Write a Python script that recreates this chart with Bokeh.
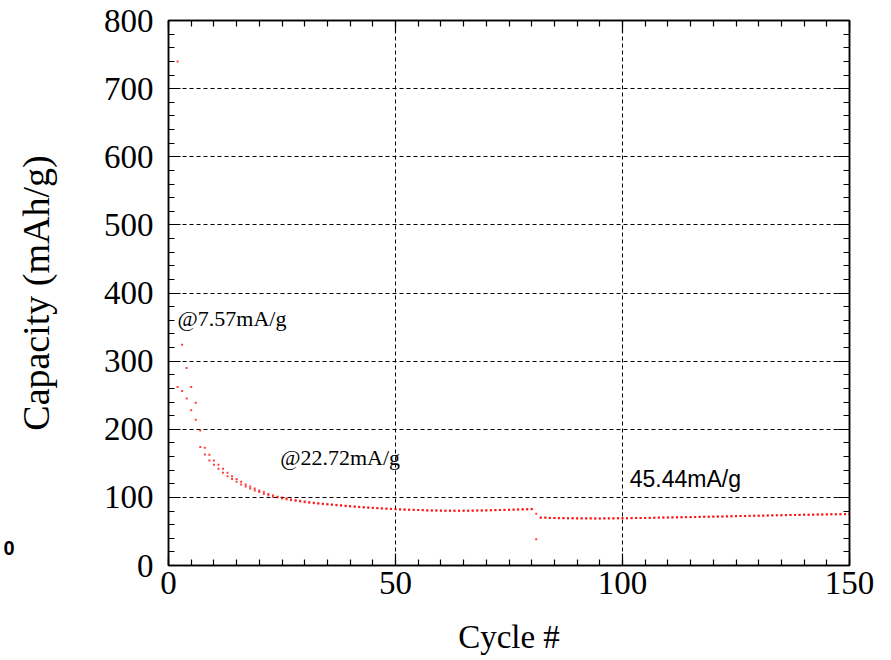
from bokeh.plotting import figure
from bokeh.models import (Range1d, LinearAxis, SingleIntervalTicker, Label,
                          ColumnDataSource, FixedTicker)
from bokeh.embed import file_html
from bokeh.resources import INLINE

# Cycle index (2 .. 150)
cycles = list(range(2, 151))

# Upper capacity series (mAh/g), one value per cycle
cap_upper = [
    740, 324, 290, 262, 239, 198, 173, 162.5, 154, 148,
    142, 136, 131, 127, 123, 119, 116, 113, 110, 108,
    105, 103, 101, 100, 98.5, 97, 96, 95, 94, 93,
    92.2, 91.5, 90.8, 90.2, 89.6, 89, 88.4, 87.8, 87.2, 86.7,
    86.2, 85.7, 85.2, 84.8, 84.4, 84, 83.6, 83.2, 82.9, 82.6,
    82.3, 82, 81.7, 81.5, 81.3, 81.1, 80.9, 80.7, 80.6, 80.5,
    80.4, 80.3, 80.3, 80.3, 80.4, 80.5, 80.6, 80.7, 80.9, 81,
    81.2, 81.3, 81.5, 81.7, 81.9, 82.1, 82.3, 82.5, 82.7, 75.9,
    70.6, 70.3, 70.1, 69.9, 69.8, 69.6, 69.5, 69.4, 69.3, 69.3,
    69.2, 69.2, 69.1, 69.1, 69.2, 69.2, 69.3, 69.3, 69.4, 69.5,
    69.6, 69.7, 69.8, 69.9, 70, 70.2, 70.3, 70.4, 70.5, 70.7,
    70.8, 70.9, 71.1, 71.2, 71.3, 71.5, 71.6, 71.7, 71.9, 72,
    72.1, 72.3, 72.4, 72.5, 72.7, 72.8, 72.9, 73.1, 73.2, 73.3,
    73.5, 73.6, 73.7, 73.9, 74, 74.1, 74.3, 74.4, 74.5, 74.6,
    74.8, 74.9, 75, 75.1, 75.2, 75.3, 75.4, 75.5, 75.6,
]

# Lower capacity series (mAh/g), one value per cycle
cap_lower = [
    262, 256, 245, 228, 214, 174, 163, 154, 148, 142,
    136, 131, 127, 123, 119, 116, 113, 110, 108, 105,
    103, 101, 100, 98.5, 97, 96, 95, 94, 93, 92.2,
    91.5, 90.8, 90.2, 89.6, 89, 88.4, 87.8, 87.2, 86.7, 86.2,
    85.7, 85.2, 84.8, 84.4, 84, 83.6, 83.2, 82.9, 82.6, 82.3,
    82, 81.7, 81.5, 81.3, 81.1, 80.9, 80.7, 80.6, 80.5, 80.4,
    80.3, 80.3, 80.3, 80.4, 80.5, 80.6, 80.7, 80.9, 81, 81.2,
    81.3, 81.5, 81.7, 81.9, 82.1, 82.3, 82.5, 82.7, 82.9, 38.6,
    70.2, 70, 69.8, 69.7, 69.5, 69.4, 69.3, 69.2, 69.1, 69.1,
    69, 69, 69, 69, 69, 69.1, 69.1, 69.2, 69.3, 69.4,
    69.5, 69.6, 69.7, 69.8, 69.9, 70, 70.1, 70.3, 70.4, 70.5,
    70.6, 70.8, 70.9, 71, 71.2, 71.3, 71.4, 71.6, 71.7, 71.8,
    72, 72.1, 72.2, 72.4, 72.5, 72.6, 72.8, 72.9, 73, 73.2,
    73.3, 73.4, 73.6, 73.7, 73.8, 74, 74.1, 74.2, 74.4, 74.5,
    74.6, 74.7, 74.9, 75, 75.1, 75.2, 75.3, 75.4, 75.5,
]

# Current-density annotations: (text, x, y)
rate_labels = [("@7.57mA/g", 2.0, 362), ("@22.72mA/g", 24.6, 158)]
rate_label_sans = ("45.44mA/g", 101.6, 127)

# Panel marker shown at the far left margin
panel_mark = "0"
panel_mark_at = 25

SERIF = "Liberation Serif"
SANS = "Liberation Sans"

p = figure(width=891, height=660, output_backend="svg", toolbar_location=None,
           x_range=Range1d(0, 150), y_range=Range1d(0, 800),
           min_border_left=167, min_border_right=42,
           min_border_top=20, min_border_bottom=95,
           x_axis_label="Cycle #", y_axis_label="Capacity (mAh/g)")
p.background_fill_color = "white"
p.border_fill_color = "white"
p.outline_line_color = "black"
p.outline_line_width = 1.5

xt = SingleIntervalTicker(interval=50, num_minor_ticks=10)
yt = SingleIntervalTicker(interval=100, num_minor_ticks=5)
p.xaxis.ticker = xt
p.yaxis.ticker = yt
p.xgrid.ticker = xt
p.ygrid.ticker = yt

for g in (p.xgrid, p.ygrid):
    g.grid_line_color = "black"
    g.grid_line_dash = "4 3"
    g.grid_line_width = 1

def style_axis(ax, show_labels):
    ax.axis_line_color = "black"
    ax.axis_line_width = 1.5
    ax.major_tick_in = 12
    ax.major_tick_out = 0
    ax.minor_tick_in = 6
    ax.minor_tick_out = 0
    ax.major_tick_line_color = "black"
    ax.minor_tick_line_color = "black"
    ax.major_tick_line_width = 1.2
    ax.minor_tick_line_width = 1.2
    if show_labels:
        ax.major_label_text_font = SERIF
        ax.major_label_text_font_size = "33px"
        ax.major_label_text_color = "black"
        ax.axis_label_text_font = SERIF
        ax.axis_label_text_font_size = "33px"
        ax.axis_label_text_font_style = "normal"
        ax.axis_label_text_color = "black"
    else:
        ax.major_label_text_alpha = 0
        ax.major_label_text_font_size = "1px"
        ax.major_label_standoff = 0

for ax in p.xaxis:
    style_axis(ax, True)
    ax.major_label_standoff = 6
    ax.axis_label_standoff = 22
for ax in p.yaxis:
    style_axis(ax, True)
    ax.major_label_standoff = 15
    ax.axis_label_standoff = 44
    ax.axis_label_text_font_size = "38px"

top_axis = LinearAxis(ticker=xt)
right_axis = LinearAxis(ticker=yt)
style_axis(top_axis, False)
style_axis(right_axis, False)
p.add_layout(top_axis, "above")
p.add_layout(right_axis, "right")

# outer left axis carrying only the panel marker
mark_axis = LinearAxis(ticker=FixedTicker(ticks=[panel_mark_at]),
                       major_label_overrides={panel_mark_at: panel_mark})
mark_axis.axis_line_color = None
mark_axis.major_tick_line_color = None
mark_axis.minor_tick_line_color = None
mark_axis.major_tick_out = 0
mark_axis.major_tick_in = 0
mark_axis.major_label_standoff = -3
mark_axis.major_label_text_font = SANS
mark_axis.major_label_text_font_style = "bold"
mark_axis.major_label_text_font_size = "20px"
mark_axis.major_label_text_color = "black"
p.add_layout(mark_axis, "left")

src = ColumnDataSource(dict(cycle=cycles, upper=cap_upper, lower=cap_lower))
for col in ("upper", "lower"):
    p.scatter(x="cycle", y=col, source=src, marker="square", size=2,
              fill_color="#ff0000", line_color=None, fill_alpha=0.75)

for txt, lx, ly in rate_labels:
    p.add_layout(Label(x=lx, y=ly, text=txt, text_font=SERIF,
                       text_font_size="22px", text_color="black",
                       text_baseline="alphabetic"))
p.add_layout(Label(x=rate_label_sans[1], y=rate_label_sans[2],
                   text=rate_label_sans[0], text_font=SANS,
                   text_font_size="23px", text_color="black",
                   text_baseline="alphabetic"))

open("out.html", "w").write(file_html(p, INLINE))
